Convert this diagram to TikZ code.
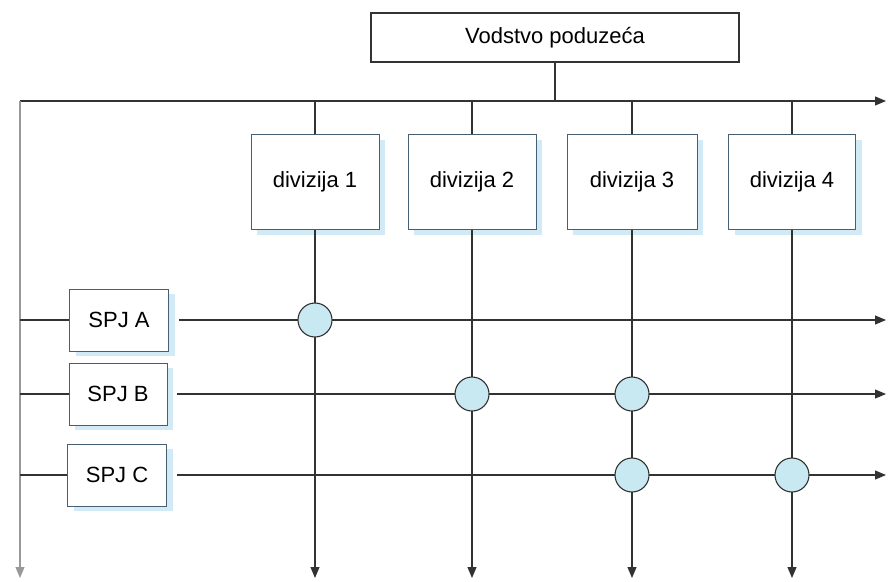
\documentclass[tikz,border=0pt]{standalone}
\usepackage{fontspec}
\setmainfont{Liberation Sans}
\usetikzlibrary{arrows.meta,shadows}
\definecolor{lineg}{RGB}{50,50,50}
\definecolor{boxline}{RGB}{70,95,115}
\definecolor{shadowblue}{RGB}{210,234,245}
\definecolor{dotblue}{RGB}{200,232,242}
\begin{document}
\begin{tikzpicture}[x=1pt,y=-1pt,
    line width=1.1pt, draw=lineg,
    tip/.style={-{Triangle[length=11pt,width=9pt]}},
    greytip/.style={draw=gray!80,-{Triangle[length=11pt,width=9pt,fill=gray!80]}}]

        \useasboundingbox (0,0) rectangle (888,581);
        \fontsize{22}{26}\selectfont

        % top box
        \node[draw=black!80, fill=white, minimum width=368pt, minimum height=49pt] (vod) at (555,37.5) {Vodstvo poduze\'ca};

        \coordinate (tl) at (20,101);
        \coordinate (tr) at (886,101);
        \coordinate (bl) at (20,578);

        \begin{scope}[every node/.style={draw=boxline, fill=white, line width=0.9pt,
            drop shadow={fill=shadowblue, opacity=1, shadow xshift=6pt, shadow yshift=-5pt}}]
          \node[minimum width=128pt, minimum height=95pt] (d1) at (315,182) {divizija 1};
          \node[minimum width=128pt, minimum height=95pt] (d2) at (472,182) {divizija 2};
          \node[minimum width=130pt, minimum height=95pt] (d3) at (632,182) {divizija 3};
          \node[minimum width=127pt, minimum height=95pt] (d4) at (792,182) {divizija 4};

          \node[minimum width=99pt, minimum height=62pt] (A) at (119,320) {SPJ A};
          \node[minimum width=98pt, minimum height=62pt] (B) at (118,394) {SPJ B};
          \node[minimum width=99pt, minimum height=62pt] (C) at (117,475) {SPJ C};
        \end{scope}

        \coordinate (rA) at (A -| tr);
        \coordinate (rB) at (B -| tr);
        \coordinate (rC) at (C -| tr);

        % lines
        \draw (vod) -- (vod |- tl);
        \draw[tip] (tl) -- (tr);
        \draw[greytip] (tl) -- (bl);

        \draw (d1.north |- tl) -- (d1);
        \draw (d2.north |- tl) -- (d2);
        \draw (d3.north |- tl) -- (d3);
        \draw (d4.north |- tl) -- (d4);

        \draw[tip] (d1) -- (d1 |- bl);
        \draw[tip] (d2) -- (d2 |- bl);
        \draw[tip] (d3) -- (d3 |- bl);
        \draw[tip] (d4) -- (d4 |- bl);

        \draw (A.west -| tl) -- (A);
        \draw (B.west -| tl) -- (B);
        \draw (C.west -| tl) -- (C);

        \draw[tip, shorten <=10pt] (A.east) -- (rA);
        \draw[tip, shorten <=10pt] (B.east) -- (rB);
        \draw[tip, shorten <=10pt] (C.east) -- (rC);

        % crossings
        \begin{scope}[every node/.style={circle, draw=lineg, fill=dotblue, line width=1.1pt, minimum size=34pt, inner sep=0pt}]
          \node (d1A) at (d1 |- A) {};
          \node (d2B) at (d2 |- B) {};
          \node (d3B) at (d3 |- B) {};
          \node (d3C) at (d3 |- C) {};
          \node (d4C) at (d4 |- C) {};
        \end{scope}

\end{tikzpicture}
\end{document}
